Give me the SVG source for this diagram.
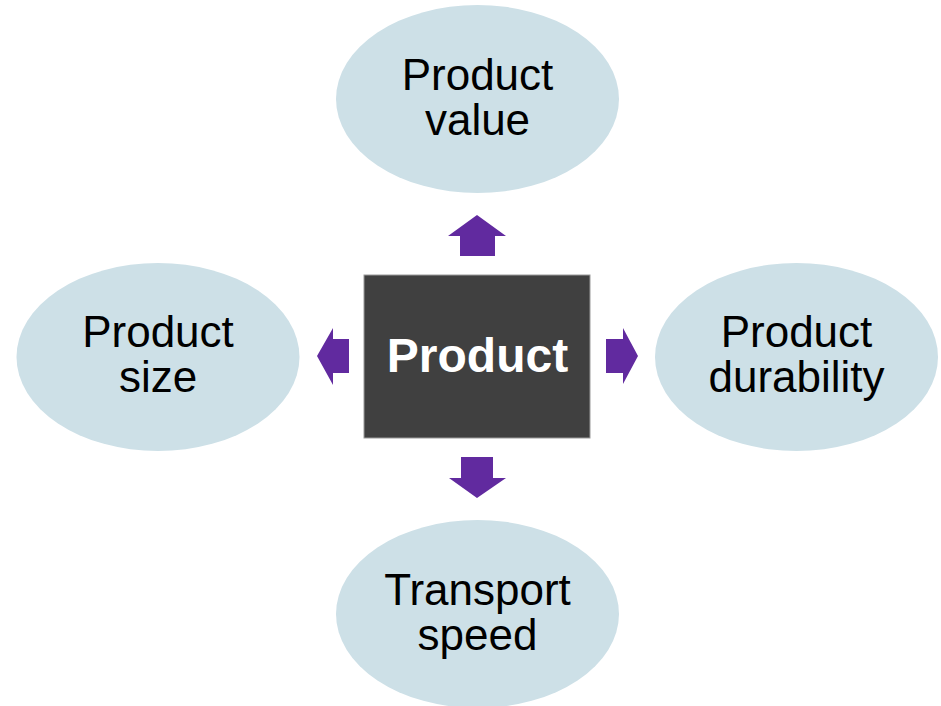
<svg xmlns="http://www.w3.org/2000/svg" width="941" height="706" viewBox="0 0 941 706">
<style>
.ell{fill:#cde0e7;}
.lbl{font-family:"Liberation Sans",Arial,sans-serif;font-size:44px;fill:#000;text-anchor:middle;}
.ctr{font-family:"Liberation Sans",Arial,sans-serif;font-size:48px;font-weight:bold;fill:#fff;text-anchor:middle;}
.arr{fill:#612a9f;}
</style>
<rect width="941" height="706" fill="#fff"/>
<g id="node-value">
<ellipse class="ell" cx="477.5" cy="99" rx="141.5" ry="94"/>
<text class="lbl" x="477.5" y="90">Product</text>
<text class="lbl" x="477.5" y="135">value</text>
</g>
<g id="node-size">
<ellipse class="ell" cx="158" cy="357" rx="141.5" ry="94"/>
<text class="lbl" x="158" y="347">Product</text>
<text class="lbl" x="158" y="392">size</text>
</g>
<g id="node-durability">
<ellipse class="ell" cx="796.5" cy="357" rx="141.5" ry="94"/>
<text class="lbl" x="796.5" y="347">Product</text>
<text class="lbl" x="796.5" y="392">durability</text>
</g>
<g id="node-transport">
<ellipse class="ell" cx="477.5" cy="614" rx="141.5" ry="94"/>
<text class="lbl" x="477.5" y="605">Transport</text>
<text class="lbl" x="477.5" y="650">speed</text>
</g>
<g id="node-product">
<rect x="364" y="275" width="226" height="163" fill="#404040" stroke="#9a9a9a" stroke-width="1"/>
<text class="ctr" x="477.5" y="372">Product</text>
</g>
<g id="connectors">
<polygon class="arr" points="477,215 506,236 495,236 495,256 460,256 460,236 448,236"/>
<polygon class="arr" points="477,498 506,478 493,478 493,457 461,457 461,478 449,478"/>
<polygon class="arr" points="317,356 333,328 333,339 349,339 349,373 333,373 333,385"/>
<polygon class="arr" points="638,356 623,328 623,339 606,339 606,373 623,373 623,384"/>
</g>
</svg>
